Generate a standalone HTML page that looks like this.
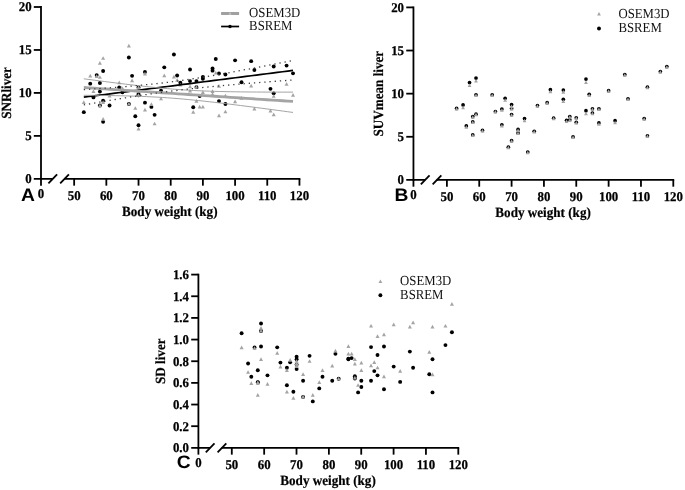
<!DOCTYPE html>
<html lang="en">
<head>
<meta charset="utf-8">
<title>Liver SNR, SUVmean and SD versus body weight</title>
<style>
html,body{margin:0;padding:0;background:#fff;}
body{width:685px;height:490px;overflow:hidden;}
svg{display:block;will-change:transform;}
text{font-family:"Liberation Serif","Times New Roman",serif;fill:#000;text-rendering:geometricPrecision;}
.tk{font-weight:bold;font-size:13.4px;stroke:#000;stroke-width:0.25px;}
.ti{font-weight:bold;font-size:14px;stroke:#000;stroke-width:0.2px;}
.ty{font-size:14px;}
.lg{font-size:13.8px;fill:#111;}
.pl{font-family:"Liberation Sans",Arial,sans-serif;font-weight:bold;font-size:18px;}
</style>
</head>
<body>
<svg width="685" height="490" viewBox="0 0 685 490">
<rect width="685" height="490" fill="#fff"/>
<g id="panelA">
<circle cx="83.81" cy="112.13" r="1.95" fill="#000"/>
<circle cx="90.24" cy="83.63" r="1.95" fill="#000"/>
<circle cx="93.46" cy="97.4" r="1.95" fill="#000"/>
<circle cx="96.68" cy="75.1" r="1.95" fill="#000"/>
<circle cx="99.9" cy="83.05" r="1.95" fill="#000"/>
<circle cx="99.9" cy="91.58" r="1.95" fill="#000"/>
<circle cx="99.9" cy="105.54" r="1.95" fill="#000"/>
<circle cx="103.12" cy="71.03" r="1.95" fill="#000"/>
<circle cx="103.12" cy="100.69" r="1.95" fill="#000"/>
<circle cx="103.12" cy="121.83" r="1.95" fill="#000"/>
<circle cx="109.55" cy="105.54" r="1.95" fill="#000"/>
<circle cx="119.21" cy="87.51" r="1.95" fill="#000"/>
<circle cx="122.43" cy="92.36" r="1.95" fill="#000"/>
<circle cx="128.87" cy="57.45" r="1.95" fill="#000"/>
<circle cx="128.87" cy="103.99" r="1.95" fill="#000"/>
<circle cx="132.08" cy="75.87" r="1.95" fill="#000"/>
<circle cx="135.3" cy="116.21" r="1.95" fill="#000"/>
<circle cx="138.52" cy="125.32" r="1.95" fill="#000"/>
<circle cx="138.52" cy="87.51" r="1.95" fill="#000"/>
<circle cx="138.52" cy="95.26" r="1.95" fill="#000"/>
<circle cx="138.52" cy="93.91" r="1.95" fill="#000"/>
<circle cx="144.96" cy="72" r="1.95" fill="#000"/>
<circle cx="144.96" cy="102.63" r="1.95" fill="#000"/>
<circle cx="151.4" cy="106.9" r="1.95" fill="#000"/>
<circle cx="154.61" cy="114.85" r="1.95" fill="#000"/>
<circle cx="161.05" cy="90.8" r="1.95" fill="#000"/>
<circle cx="164.27" cy="67.34" r="1.95" fill="#000"/>
<circle cx="173.93" cy="54.54" r="1.95" fill="#000"/>
<circle cx="177.14" cy="75.49" r="1.95" fill="#000"/>
<circle cx="180.36" cy="82.66" r="1.95" fill="#000"/>
<circle cx="190.02" cy="69.47" r="1.95" fill="#000"/>
<circle cx="190.02" cy="81.11" r="1.95" fill="#000"/>
<circle cx="193.24" cy="107.29" r="1.95" fill="#000"/>
<circle cx="196.46" cy="81.11" r="1.95" fill="#000"/>
<circle cx="196.46" cy="87.12" r="1.95" fill="#000"/>
<circle cx="199.67" cy="96.04" r="1.95" fill="#000"/>
<circle cx="202.89" cy="76.84" r="1.95" fill="#000"/>
<circle cx="202.89" cy="78.78" r="1.95" fill="#000"/>
<circle cx="212.55" cy="68.5" r="1.95" fill="#000"/>
<circle cx="212.55" cy="70.64" r="1.95" fill="#000"/>
<circle cx="215.77" cy="59" r="1.95" fill="#000"/>
<circle cx="218.99" cy="73.55" r="1.95" fill="#000"/>
<circle cx="218.99" cy="101.08" r="1.95" fill="#000"/>
<circle cx="225.42" cy="74.52" r="1.95" fill="#000"/>
<circle cx="225.42" cy="103.99" r="1.95" fill="#000"/>
<circle cx="235.08" cy="60.36" r="1.95" fill="#000"/>
<circle cx="241.52" cy="82.27" r="1.95" fill="#000"/>
<circle cx="251.17" cy="61.14" r="1.95" fill="#000"/>
<circle cx="254.39" cy="70.06" r="1.95" fill="#000"/>
<circle cx="270.48" cy="88.87" r="1.95" fill="#000"/>
<circle cx="273.7" cy="66.57" r="1.95" fill="#000"/>
<circle cx="273.7" cy="93.33" r="1.95" fill="#000"/>
<circle cx="286.58" cy="65.6" r="1.95" fill="#000"/>
<circle cx="293.01" cy="73.35" r="1.95" fill="#000"/>
<polygon points="83.81,100.34 81.81,104.04 85.81,104.04" fill="#a4a4a4"/>
<polygon points="90.24,73.77 88.24,77.47 92.24,77.47" fill="#a4a4a4"/>
<polygon points="93.46,89.29 91.46,92.99 95.46,92.99" fill="#a4a4a4"/>
<polygon points="96.68,74.36 94.68,78.06 98.68,78.06" fill="#a4a4a4"/>
<polygon points="99.9,60.98 97.9,64.68 101.9,64.68" fill="#a4a4a4"/>
<polygon points="99.9,75.13 97.9,78.83 101.9,78.83" fill="#a4a4a4"/>
<polygon points="99.9,103.44 97.9,107.14 101.9,107.14" fill="#a4a4a4"/>
<polygon points="103.12,56.13 101.12,59.83 105.12,59.83" fill="#a4a4a4"/>
<polygon points="103.12,100.34 101.12,104.04 105.12,104.04" fill="#a4a4a4"/>
<polygon points="103.12,117.02 101.12,120.72 105.12,120.72" fill="#a4a4a4"/>
<polygon points="109.55,93.75 107.55,97.45 111.55,97.45" fill="#a4a4a4"/>
<polygon points="119.21,80.56 117.21,84.26 121.21,84.26" fill="#a4a4a4"/>
<polygon points="122.43,86.38 120.43,90.08 124.43,90.08" fill="#a4a4a4"/>
<polygon points="128.87,43.72 126.87,47.42 130.87,47.42" fill="#a4a4a4"/>
<polygon points="128.87,101.89 126.87,105.59 130.87,105.59" fill="#a4a4a4"/>
<polygon points="132.08,78.62 130.08,82.32 134.08,82.32" fill="#a4a4a4"/>
<polygon points="135.3,106.16 133.3,109.86 137.3,109.86" fill="#a4a4a4"/>
<polygon points="138.52,126.71 136.52,130.41 140.52,130.41" fill="#a4a4a4"/>
<polygon points="138.52,85.41 136.52,89.11 140.52,89.11" fill="#a4a4a4"/>
<polygon points="138.52,93.16 136.52,96.86 140.52,96.86" fill="#a4a4a4"/>
<polygon points="138.52,88.7 136.52,92.4 140.52,92.4" fill="#a4a4a4"/>
<polygon points="144.96,71.83 142.96,75.53 146.96,75.53" fill="#a4a4a4"/>
<polygon points="144.96,107.71 142.96,111.41 146.96,111.41" fill="#a4a4a4"/>
<polygon points="151.4,102.28 149.4,105.98 153.4,105.98" fill="#a4a4a4"/>
<polygon points="154.61,121.67 152.61,125.37 156.61,125.37" fill="#a4a4a4"/>
<polygon points="161.05,96.66 159.05,100.36 163.05,100.36" fill="#a4a4a4"/>
<polygon points="164.27,73.58 162.27,77.28 166.27,77.28" fill="#a4a4a4"/>
<polygon points="173.93,74.74 171.93,78.44 175.93,78.44" fill="#a4a4a4"/>
<polygon points="177.14,78.04 175.14,81.74 179.14,81.74" fill="#a4a4a4"/>
<polygon points="180.36,82.89 178.36,86.59 182.36,86.59" fill="#a4a4a4"/>
<polygon points="190.02,84.44 188.02,88.14 192.02,88.14" fill="#a4a4a4"/>
<polygon points="190.02,88.7 188.02,92.4 192.02,92.4" fill="#a4a4a4"/>
<polygon points="193.24,110.03 191.24,113.73 195.24,113.73" fill="#a4a4a4"/>
<polygon points="196.46,98.98 194.46,102.68 198.46,102.68" fill="#a4a4a4"/>
<polygon points="196.46,85.02 194.46,88.72 198.46,88.72" fill="#a4a4a4"/>
<polygon points="199.67,104.8 197.67,108.5 201.67,108.5" fill="#a4a4a4"/>
<polygon points="202.89,104.8 200.89,108.5 204.89,108.5" fill="#a4a4a4"/>
<polygon points="202.89,90.26 200.89,93.96 204.89,93.96" fill="#a4a4a4"/>
<polygon points="212.55,89.29 210.55,92.99 214.55,92.99" fill="#a4a4a4"/>
<polygon points="212.55,92.2 210.55,95.9 214.55,95.9" fill="#a4a4a4"/>
<polygon points="215.77,70.86 213.77,74.56 217.77,74.56" fill="#a4a4a4"/>
<polygon points="218.99,84.05 216.99,87.75 220.99,87.75" fill="#a4a4a4"/>
<polygon points="218.99,113.53 216.99,117.23 220.99,117.23" fill="#a4a4a4"/>
<polygon points="225.42,93.75 223.42,97.45 227.42,97.45" fill="#a4a4a4"/>
<polygon points="225.42,109.65 223.42,113.35 227.42,113.35" fill="#a4a4a4"/>
<polygon points="235.08,99.56 233.08,103.26 237.08,103.26" fill="#a4a4a4"/>
<polygon points="241.52,96.07 239.52,99.77 243.52,99.77" fill="#a4a4a4"/>
<polygon points="251.17,83.86 249.17,87.56 253.17,87.56" fill="#a4a4a4"/>
<polygon points="254.39,106.74 252.39,110.44 256.39,110.44" fill="#a4a4a4"/>
<polygon points="270.48,108.68 268.48,112.38 272.48,112.38" fill="#a4a4a4"/>
<polygon points="273.7,112.56 271.7,116.26 275.7,116.26" fill="#a4a4a4"/>
<polygon points="273.7,94.13 271.7,97.83 275.7,97.83" fill="#a4a4a4"/>
<polygon points="286.58,82.11 284.58,85.81 288.58,85.81" fill="#a4a4a4"/>
<polygon points="293.01,92.97 291.01,96.67 295.01,96.67" fill="#a4a4a4"/>
<path d="M83.81 97.19 L89.04 96.52 L94.27 95.85 L99.5 95.18 L104.73 94.51 L109.96 93.84 L115.19 93.17 L120.42 92.5 L125.65 91.83 L130.88 91.16 L136.11 90.49 L141.34 89.82 L146.57 89.15 L151.8 88.48 L157.03 87.81 L162.26 87.14 L167.49 86.47 L172.72 85.8 L177.95 85.13 L183.18 84.46 L188.41 83.79 L193.64 83.12 L198.87 82.44 L204.1 81.77 L209.33 81.1 L214.56 80.43 L219.79 79.76 L225.02 79.09 L230.25 78.42 L235.48 77.75 L240.71 77.08 L245.94 76.41 L251.17 75.74 L256.4 75.07 L261.63 74.4 L266.86 73.73 L272.09 73.06 L277.32 72.39 L282.55 71.72 L287.78 71.05 L293.01 70.38" stroke="#000" stroke-width="1.7" fill="none"/>
<path d="M83.81 87.51 L89.04 87.86 L94.27 88.21 L99.5 88.56 L104.73 88.91 L109.96 89.26 L115.19 89.61 L120.42 89.95 L125.65 90.3 L130.88 90.65 L136.11 91 L141.34 91.35 L146.57 91.7 L151.8 92.05 L157.03 92.4 L162.26 92.75 L167.49 93.1 L172.72 93.44 L177.95 93.79 L183.18 94.14 L188.41 94.49 L193.64 94.84 L198.87 95.19 L204.1 95.54 L209.33 95.89 L214.56 96.24 L219.79 96.59 L225.02 96.93 L230.25 97.28 L235.48 97.63 L240.71 97.98 L245.94 98.33 L251.17 98.68 L256.4 99.03 L261.63 99.38 L266.86 99.73 L272.09 100.08 L277.32 100.42 L282.55 100.77 L287.78 101.12 L293.01 101.47" stroke="#a4a4a4" stroke-width="2.8" fill="none"/>
<path d="M83.81 78.8 L89.04 79.49 L94.27 80.18 L99.5 80.86 L104.73 81.54 L109.96 82.21 L115.19 82.87 L120.42 83.52 L125.65 84.16 L130.88 84.79 L136.11 85.4 L141.34 86 L146.57 86.57 L151.8 87.13 L157.03 87.66 L162.26 88.17 L167.49 88.64 L172.72 89.08 L177.95 89.49 L183.18 89.86 L188.41 90.19 L193.64 90.49 L198.87 90.75 L204.1 90.98 L209.33 91.18 L214.56 91.35 L219.79 91.49 L225.02 91.62 L230.25 91.72 L235.48 91.81 L240.71 91.88 L245.94 91.94 L251.17 91.99 L256.4 92.03 L261.63 92.06 L266.86 92.08 L272.09 92.1 L277.32 92.11 L282.55 92.12 L287.78 92.12 L293.01 92.11" stroke="#9a9a9a" stroke-width="0.9" fill="none"/>
<path d="M83.81 95.3 L89.04 95.33 L94.27 95.37 L99.5 95.42 L104.73 95.48 L109.96 95.56 L115.19 95.65 L120.42 95.75 L125.65 95.87 L130.88 96.02 L136.11 96.19 L141.34 96.38 L146.57 96.6 L151.8 96.86 L157.03 97.14 L162.26 97.46 L167.49 97.81 L172.72 98.2 L177.95 98.62 L183.18 99.07 L188.41 99.56 L193.64 100.07 L198.87 100.6 L204.1 101.16 L209.33 101.74 L214.56 102.34 L219.79 102.95 L225.02 103.57 L230.25 104.21 L235.48 104.86 L240.71 105.52 L245.94 106.19 L251.17 106.87 L256.4 107.55 L261.63 108.23 L266.86 108.93 L272.09 109.62 L277.32 110.33 L282.55 111.03 L287.78 111.74 L293.01 112.45" stroke="#9a9a9a" stroke-width="0.9" fill="none"/>
<path d="M83.81 89.63 L89.04 89.28 L94.27 88.92 L99.5 88.55 L104.73 88.18 L109.96 87.79 L115.19 87.4 L120.42 86.99 L125.65 86.56 L130.88 86.12 L136.11 85.66 L141.34 85.18 L146.57 84.67 L151.8 84.14 L157.03 83.58 L162.26 82.98 L167.49 82.35 L172.72 81.68 L177.95 80.98 L183.18 80.24 L188.41 79.48 L193.64 78.68 L198.87 77.85 L204.1 77 L209.33 76.12 L214.56 75.22 L219.79 74.31 L225.02 73.38 L230.25 72.44 L235.48 71.49 L240.71 70.52 L245.94 69.55 L251.17 68.57 L256.4 67.59 L261.63 66.6 L266.86 65.6 L272.09 64.6 L277.32 63.59 L282.55 62.58 L287.78 61.57 L293.01 60.55" stroke="#3c3c3c" stroke-width="1.3" stroke-dasharray="1.3 3.9" fill="none"/>
<path d="M83.81 104.92 L89.04 104 L94.27 103.08 L99.5 102.17 L104.73 101.27 L109.96 100.38 L115.19 99.5 L120.42 98.63 L125.65 97.78 L130.88 96.94 L136.11 96.12 L141.34 95.32 L146.57 94.53 L151.8 93.77 L157.03 93.03 L162.26 92.31 L167.49 91.61 L172.72 90.94 L177.95 90.29 L183.18 89.66 L188.41 89.06 L193.64 88.48 L198.87 87.91 L204.1 87.37 L209.33 86.85 L214.56 86.34 L219.79 85.85 L225.02 85.38 L230.25 84.91 L235.48 84.46 L240.71 84.02 L245.94 83.59 L251.17 83.16 L256.4 82.75 L261.63 82.34 L266.86 81.94 L272.09 81.54 L277.32 81.15 L282.55 80.76 L287.78 80.38 L293.01 80" stroke="#3c3c3c" stroke-width="1.3" stroke-dasharray="1.3 3.9" fill="none"/>
<path d="M41 6.1 V179.75" stroke="#000" stroke-width="1.8" fill="none"/>
<path d="M33.8 178.85 H52.6 M64 178.85 H300.35" stroke="#000" stroke-width="1.8" fill="none"/>
<path d="M48.4 183.35 L57.1 174.35" stroke="#000" stroke-width="1.8" fill="none"/>
<path d="M60.2 183.35 L68.9 174.35" stroke="#000" stroke-width="1.8" fill="none"/>
<text transform="translate(31.6 183.25) scale(0.96 1)" text-anchor="end" class="tk">0</text>
<path d="M33.8 135.89 H41" stroke="#000" stroke-width="1.8"/>
<text transform="translate(31.6 140.29) scale(0.96 1)" text-anchor="end" class="tk">5</text>
<path d="M33.8 92.92 H41" stroke="#000" stroke-width="1.8"/>
<text transform="translate(31.6 97.33) scale(0.96 1)" text-anchor="end" class="tk">10</text>
<path d="M33.8 49.96 H41" stroke="#000" stroke-width="1.8"/>
<text transform="translate(31.6 54.36) scale(0.96 1)" text-anchor="end" class="tk">15</text>
<path d="M33.8 7 H41" stroke="#000" stroke-width="1.8"/>
<text transform="translate(31.6 11.4) scale(0.96 1)" text-anchor="end" class="tk">20</text>
<path d="M41 178.85 V185.65" stroke="#000" stroke-width="1.8"/>
<text transform="translate(41 197.85) scale(0.96 1)" text-anchor="middle" class="tk">0</text>
<path d="M74.15 178.85 V185.65" stroke="#000" stroke-width="1.8"/>
<text transform="translate(74.15 199.95) scale(0.96 1)" text-anchor="middle" class="tk">50</text>
<path d="M106.34 178.85 V185.65" stroke="#000" stroke-width="1.8"/>
<text transform="translate(106.34 199.95) scale(0.96 1)" text-anchor="middle" class="tk">60</text>
<path d="M138.52 178.85 V185.65" stroke="#000" stroke-width="1.8"/>
<text transform="translate(138.52 199.95) scale(0.96 1)" text-anchor="middle" class="tk">70</text>
<path d="M170.71 178.85 V185.65" stroke="#000" stroke-width="1.8"/>
<text transform="translate(170.71 199.95) scale(0.96 1)" text-anchor="middle" class="tk">80</text>
<path d="M202.89 178.85 V185.65" stroke="#000" stroke-width="1.8"/>
<text transform="translate(202.89 199.95) scale(0.96 1)" text-anchor="middle" class="tk">90</text>
<path d="M235.08 178.85 V185.65" stroke="#000" stroke-width="1.8"/>
<text transform="translate(235.08 199.95) scale(0.96 1)" text-anchor="middle" class="tk">100</text>
<path d="M267.26 178.85 V185.65" stroke="#000" stroke-width="1.8"/>
<text transform="translate(267.26 199.95) scale(0.96 1)" text-anchor="middle" class="tk">110</text>
<path d="M299.45 178.85 V185.65" stroke="#000" stroke-width="1.8"/>
<text transform="translate(299.45 199.95) scale(0.96 1)" text-anchor="middle" class="tk">120</text>
<text transform="translate(169.8 215.75) scale(0.937 1)" text-anchor="middle" class="ti">Body weight (kg)</text>
<text transform="translate(11.4 92.92) rotate(-90) scale(0.937 1)" text-anchor="middle" class="ti ty">SNRliver</text>
<text transform="translate(27.9 200.9) scale(1.07 1)" text-anchor="middle" class="pl">A</text>
<path d="M221.1 13.5 H239.1" stroke="#a0a0a0" stroke-width="3"/>
<path d="M221.1 26.5 H239.1" stroke="#000" stroke-width="1.7"/>
<polygon points="230,11.93 228.5,14.7 231.5,14.7" fill="#c4c4c4"/>
<circle cx="230" cy="26.5" r="1.75" fill="#000"/>
<text transform="translate(249.1 17.4) scale(0.927 1)" class="lg">OSEM3D</text>
<text transform="translate(249.1 30.4) scale(0.927 1)" class="lg">BSREM</text>
</g>
<g id="panelB">
<circle cx="456.6" cy="108.43" r="1.85" fill="#000"/>
<circle cx="463.07" cy="104.96" r="1.85" fill="#000"/>
<circle cx="466.31" cy="125.96" r="1.85" fill="#000"/>
<circle cx="469.54" cy="82.53" r="1.85" fill="#000"/>
<circle cx="472.77" cy="116.58" r="1.85" fill="#000"/>
<circle cx="472.77" cy="121.88" r="1.85" fill="#000"/>
<circle cx="472.77" cy="134.93" r="1.85" fill="#000"/>
<circle cx="476.01" cy="78.04" r="1.85" fill="#000"/>
<circle cx="476.01" cy="94.76" r="1.85" fill="#000"/>
<circle cx="476.01" cy="114.14" r="1.85" fill="#000"/>
<circle cx="482.48" cy="130.45" r="1.85" fill="#000"/>
<circle cx="492.18" cy="94.76" r="1.85" fill="#000"/>
<circle cx="495.41" cy="111.48" r="1.85" fill="#000"/>
<circle cx="501.88" cy="109.04" r="1.85" fill="#000"/>
<circle cx="501.88" cy="124.74" r="1.85" fill="#000"/>
<circle cx="505.12" cy="98.23" r="1.85" fill="#000"/>
<circle cx="508.35" cy="147.17" r="1.85" fill="#000"/>
<circle cx="511.59" cy="104.55" r="1.85" fill="#000"/>
<circle cx="511.59" cy="108.43" r="1.85" fill="#000"/>
<circle cx="511.59" cy="114.54" r="1.85" fill="#000"/>
<circle cx="511.59" cy="140.64" r="1.85" fill="#000"/>
<circle cx="518.05" cy="129.43" r="1.85" fill="#000"/>
<circle cx="518.05" cy="132.9" r="1.85" fill="#000"/>
<circle cx="524.52" cy="118.62" r="1.85" fill="#000"/>
<circle cx="527.76" cy="152.06" r="1.85" fill="#000"/>
<circle cx="534.23" cy="131.26" r="1.85" fill="#000"/>
<circle cx="537.46" cy="105.57" r="1.85" fill="#000"/>
<circle cx="547.16" cy="102.72" r="1.85" fill="#000"/>
<circle cx="550.4" cy="89.67" r="1.85" fill="#000"/>
<circle cx="553.63" cy="118.21" r="1.85" fill="#000"/>
<circle cx="563.33" cy="90.07" r="1.85" fill="#000"/>
<circle cx="563.33" cy="99.25" r="1.85" fill="#000"/>
<circle cx="566.57" cy="120.25" r="1.85" fill="#000"/>
<circle cx="569.8" cy="116.58" r="1.85" fill="#000"/>
<circle cx="569.8" cy="119.85" r="1.85" fill="#000"/>
<circle cx="573.04" cy="136.97" r="1.85" fill="#000"/>
<circle cx="576.27" cy="117.81" r="1.85" fill="#000"/>
<circle cx="576.27" cy="122.29" r="1.85" fill="#000"/>
<circle cx="585.97" cy="79.06" r="1.85" fill="#000"/>
<circle cx="585.97" cy="110.67" r="1.85" fill="#000"/>
<circle cx="589.21" cy="94.36" r="1.85" fill="#000"/>
<circle cx="592.44" cy="108.83" r="1.85" fill="#000"/>
<circle cx="592.44" cy="113.12" r="1.85" fill="#000"/>
<circle cx="598.91" cy="108.83" r="1.85" fill="#000"/>
<circle cx="598.91" cy="122.9" r="1.85" fill="#000"/>
<circle cx="608.61" cy="90.69" r="1.85" fill="#000"/>
<circle cx="615.08" cy="120.66" r="1.85" fill="#000"/>
<circle cx="624.79" cy="74.58" r="1.85" fill="#000"/>
<circle cx="628.02" cy="98.84" r="1.85" fill="#000"/>
<circle cx="644.19" cy="118.62" r="1.85" fill="#000"/>
<circle cx="647.43" cy="87.22" r="1.85" fill="#000"/>
<circle cx="647.43" cy="135.75" r="1.85" fill="#000"/>
<circle cx="660.36" cy="71.52" r="1.85" fill="#000"/>
<circle cx="666.83" cy="66.62" r="1.85" fill="#000"/>
<polygon points="456.6,107.04 454.7,110.56 458.5,110.56" fill="#a4a4a4"/>
<polygon points="463.07,105.62 461.17,109.13 464.97,109.13" fill="#a4a4a4"/>
<polygon points="466.31,125.19 464.41,128.71 468.21,128.71" fill="#a4a4a4"/>
<polygon points="469.54,83.59 467.64,87.11 471.44,87.11" fill="#a4a4a4"/>
<polygon points="472.77,115.2 470.87,118.71 474.67,118.71" fill="#a4a4a4"/>
<polygon points="472.77,120.5 470.87,124.02 474.67,124.02" fill="#a4a4a4"/>
<polygon points="472.77,133.55 470.87,137.07 474.67,137.07" fill="#a4a4a4"/>
<polygon points="476.01,79.11 474.11,82.62 477.91,82.62" fill="#a4a4a4"/>
<polygon points="476.01,93.38 474.11,96.9 477.91,96.9" fill="#a4a4a4"/>
<polygon points="476.01,112.75 474.11,116.27 477.91,116.27" fill="#a4a4a4"/>
<polygon points="482.48,129.07 480.58,132.58 484.38,132.58" fill="#a4a4a4"/>
<polygon points="492.18,93.38 490.28,96.9 494.08,96.9" fill="#a4a4a4"/>
<polygon points="495.41,110.1 493.51,113.62 497.31,113.62" fill="#a4a4a4"/>
<polygon points="501.88,108.27 499.98,111.78 503.78,111.78" fill="#a4a4a4"/>
<polygon points="501.88,123.97 499.98,127.48 503.78,127.48" fill="#a4a4a4"/>
<polygon points="505.12,98.27 503.22,101.79 507.02,101.79" fill="#a4a4a4"/>
<polygon points="508.35,145.79 506.45,149.3 510.25,149.3" fill="#a4a4a4"/>
<polygon points="511.59,104.6 509.69,108.11 513.49,108.11" fill="#a4a4a4"/>
<polygon points="511.59,107.04 509.69,110.56 513.49,110.56" fill="#a4a4a4"/>
<polygon points="511.59,113.16 509.69,116.67 513.49,116.67" fill="#a4a4a4"/>
<polygon points="511.59,139.26 509.69,142.78 513.49,142.78" fill="#a4a4a4"/>
<polygon points="518.05,128.45 516.15,131.97 519.95,131.97" fill="#a4a4a4"/>
<polygon points="518.05,131.51 516.15,135.03 519.95,135.03" fill="#a4a4a4"/>
<polygon points="524.52,118.67 522.62,122.18 526.42,122.18" fill="#a4a4a4"/>
<polygon points="527.76,150.68 525.86,154.2 529.66,154.2" fill="#a4a4a4"/>
<polygon points="534.23,129.88 532.33,133.4 536.13,133.4" fill="#a4a4a4"/>
<polygon points="537.46,104.19 535.56,107.7 539.36,107.7" fill="#a4a4a4"/>
<polygon points="547.16,101.33 545.26,104.85 549.06,104.85" fill="#a4a4a4"/>
<polygon points="550.4,89.71 548.5,93.22 552.3,93.22" fill="#a4a4a4"/>
<polygon points="553.63,116.83 551.73,120.35 555.53,120.35" fill="#a4a4a4"/>
<polygon points="563.33,90.12 561.43,93.63 565.23,93.63" fill="#a4a4a4"/>
<polygon points="563.33,99.5 561.43,103.01 565.23,103.01" fill="#a4a4a4"/>
<polygon points="566.57,119.48 564.67,123 568.47,123" fill="#a4a4a4"/>
<polygon points="569.8,115.2 567.9,118.71 571.7,118.71" fill="#a4a4a4"/>
<polygon points="569.8,118.46 567.9,121.98 571.7,121.98" fill="#a4a4a4"/>
<polygon points="573.04,135.59 571.14,139.11 574.94,139.11" fill="#a4a4a4"/>
<polygon points="576.27,116.42 574.37,119.94 578.17,119.94" fill="#a4a4a4"/>
<polygon points="576.27,120.91 574.37,124.42 578.17,124.42" fill="#a4a4a4"/>
<polygon points="585.97,80.53 584.07,84.05 587.87,84.05" fill="#a4a4a4"/>
<polygon points="585.97,111.73 584.07,115.25 587.87,115.25" fill="#a4a4a4"/>
<polygon points="589.21,93.58 587.31,97.1 591.11,97.1" fill="#a4a4a4"/>
<polygon points="592.44,107.45 590.54,110.97 594.34,110.97" fill="#a4a4a4"/>
<polygon points="592.44,111.73 590.54,115.25 594.34,115.25" fill="#a4a4a4"/>
<polygon points="598.91,107.45 597.01,110.97 600.81,110.97" fill="#a4a4a4"/>
<polygon points="598.91,122.34 597.01,125.85 600.81,125.85" fill="#a4a4a4"/>
<polygon points="608.61,89.3 606.71,92.82 610.51,92.82" fill="#a4a4a4"/>
<polygon points="615.08,120.7 613.18,124.22 616.98,124.22" fill="#a4a4a4"/>
<polygon points="624.79,73.19 622.89,76.71 626.69,76.71" fill="#a4a4a4"/>
<polygon points="628.02,97.46 626.12,100.97 629.92,100.97" fill="#a4a4a4"/>
<polygon points="644.19,117.24 642.29,120.75 646.09,120.75" fill="#a4a4a4"/>
<polygon points="647.43,85.84 645.53,89.35 649.33,89.35" fill="#a4a4a4"/>
<polygon points="647.43,134.37 645.53,137.88 649.33,137.88" fill="#a4a4a4"/>
<polygon points="660.36,70.13 658.46,73.65 662.26,73.65" fill="#a4a4a4"/>
<polygon points="666.83,65.24 664.93,68.75 668.73,68.75" fill="#a4a4a4"/>
<path d="M413.45 6.5 V180.8" stroke="#000" stroke-width="1.8" fill="none"/>
<path d="M406.25 179.9 H425.05 M436.45 179.9 H674.2" stroke="#000" stroke-width="1.8" fill="none"/>
<path d="M420.85 184.4 L429.55 175.4" stroke="#000" stroke-width="1.8" fill="none"/>
<path d="M432.65 184.4 L441.35 175.4" stroke="#000" stroke-width="1.8" fill="none"/>
<text transform="translate(404.05 184.3) scale(0.96 1)" text-anchor="end" class="tk">0</text>
<path d="M406.25 136.78 H413.45" stroke="#000" stroke-width="1.8"/>
<text transform="translate(404.05 141.18) scale(0.96 1)" text-anchor="end" class="tk">5</text>
<path d="M406.25 93.65 H413.45" stroke="#000" stroke-width="1.8"/>
<text transform="translate(404.05 98.05) scale(0.96 1)" text-anchor="end" class="tk">10</text>
<path d="M406.25 50.53 H413.45" stroke="#000" stroke-width="1.8"/>
<text transform="translate(404.05 54.93) scale(0.96 1)" text-anchor="end" class="tk">15</text>
<path d="M406.25 7.4 H413.45" stroke="#000" stroke-width="1.8"/>
<text transform="translate(404.05 11.8) scale(0.96 1)" text-anchor="end" class="tk">20</text>
<path d="M413.45 179.9 V186.7" stroke="#000" stroke-width="1.8"/>
<text transform="translate(413.45 198.9) scale(0.96 1)" text-anchor="middle" class="tk">0</text>
<path d="M446.9 179.9 V186.7" stroke="#000" stroke-width="1.8"/>
<text transform="translate(446.9 201) scale(0.96 1)" text-anchor="middle" class="tk">50</text>
<path d="M479.24 179.9 V186.7" stroke="#000" stroke-width="1.8"/>
<text transform="translate(479.24 201) scale(0.96 1)" text-anchor="middle" class="tk">60</text>
<path d="M511.59 179.9 V186.7" stroke="#000" stroke-width="1.8"/>
<text transform="translate(511.59 201) scale(0.96 1)" text-anchor="middle" class="tk">70</text>
<path d="M543.93 179.9 V186.7" stroke="#000" stroke-width="1.8"/>
<text transform="translate(543.93 201) scale(0.96 1)" text-anchor="middle" class="tk">80</text>
<path d="M576.27 179.9 V186.7" stroke="#000" stroke-width="1.8"/>
<text transform="translate(576.27 201) scale(0.96 1)" text-anchor="middle" class="tk">90</text>
<path d="M608.61 179.9 V186.7" stroke="#000" stroke-width="1.8"/>
<text transform="translate(608.61 201) scale(0.96 1)" text-anchor="middle" class="tk">100</text>
<path d="M640.96 179.9 V186.7" stroke="#000" stroke-width="1.8"/>
<text transform="translate(640.96 201) scale(0.96 1)" text-anchor="middle" class="tk">110</text>
<path d="M673.3 179.9 V186.7" stroke="#000" stroke-width="1.8"/>
<text transform="translate(673.3 201) scale(0.96 1)" text-anchor="middle" class="tk">120</text>
<text transform="translate(543.1 216.8) scale(0.937 1)" text-anchor="middle" class="ti">Body weight (kg)</text>
<text transform="translate(382.7 93.65) rotate(-90) scale(0.937 1)" text-anchor="middle" class="ti ty">SUVmean liver</text>
<text transform="translate(401.4 200.6) scale(1.07 1)" text-anchor="middle" class="pl">B</text>
<polygon points="599,11.91 597.1,15.42 600.9,15.42" fill="#a4a4a4"/>
<circle cx="599" cy="28.5" r="1.95" fill="#000"/>
<text transform="translate(618.4 17.9) scale(0.927 1)" class="lg">OSEM3D</text>
<text transform="translate(618.4 32.3) scale(0.927 1)" class="lg">BSREM</text>
</g>
<g id="panelC">
<circle cx="241.61" cy="333.2" r="1.95" fill="#000"/>
<circle cx="248.08" cy="363.48" r="1.95" fill="#000"/>
<circle cx="251.31" cy="376.72" r="1.95" fill="#000"/>
<circle cx="254.55" cy="347.55" r="1.95" fill="#000"/>
<circle cx="257.79" cy="370.21" r="1.95" fill="#000"/>
<circle cx="257.79" cy="382.55" r="1.95" fill="#000"/>
<circle cx="257.79" cy="382.1" r="1.95" fill="#000"/>
<circle cx="261.02" cy="323.55" r="1.95" fill="#000"/>
<circle cx="261.02" cy="330.96" r="1.95" fill="#000"/>
<circle cx="261.02" cy="346.43" r="1.95" fill="#000"/>
<circle cx="267.49" cy="375.37" r="1.95" fill="#000"/>
<circle cx="277.2" cy="347.33" r="1.95" fill="#000"/>
<circle cx="280.44" cy="362.58" r="1.95" fill="#000"/>
<circle cx="286.91" cy="367.74" r="1.95" fill="#000"/>
<circle cx="286.91" cy="385.24" r="1.95" fill="#000"/>
<circle cx="290.14" cy="362.36" r="1.95" fill="#000"/>
<circle cx="293.38" cy="391.75" r="1.95" fill="#000"/>
<circle cx="296.61" cy="356.75" r="1.95" fill="#000"/>
<circle cx="296.61" cy="359.22" r="1.95" fill="#000"/>
<circle cx="296.61" cy="364.6" r="1.95" fill="#000"/>
<circle cx="296.61" cy="369.09" r="1.95" fill="#000"/>
<circle cx="303.09" cy="380.75" r="1.95" fill="#000"/>
<circle cx="303.09" cy="396.9" r="1.95" fill="#000"/>
<circle cx="309.56" cy="355.85" r="1.95" fill="#000"/>
<circle cx="312.79" cy="401.39" r="1.95" fill="#000"/>
<circle cx="319.26" cy="388.38" r="1.95" fill="#000"/>
<circle cx="322.5" cy="376.72" r="1.95" fill="#000"/>
<circle cx="332.21" cy="380.75" r="1.95" fill="#000"/>
<circle cx="335.44" cy="353.84" r="1.95" fill="#000"/>
<circle cx="338.68" cy="378.73" r="1.95" fill="#000"/>
<circle cx="348.39" cy="359.22" r="1.95" fill="#000"/>
<circle cx="348.39" cy="358.77" r="1.95" fill="#000"/>
<circle cx="351.62" cy="358.1" r="1.95" fill="#000"/>
<circle cx="354.86" cy="376.27" r="1.95" fill="#000"/>
<circle cx="354.86" cy="378.51" r="1.95" fill="#000"/>
<circle cx="358.09" cy="392.42" r="1.95" fill="#000"/>
<circle cx="361.33" cy="380.75" r="1.95" fill="#000"/>
<circle cx="361.33" cy="387.03" r="1.95" fill="#000"/>
<circle cx="371.04" cy="347.11" r="1.95" fill="#000"/>
<circle cx="371.04" cy="380.75" r="1.95" fill="#000"/>
<circle cx="374.27" cy="371.11" r="1.95" fill="#000"/>
<circle cx="377.51" cy="354.96" r="1.95" fill="#000"/>
<circle cx="377.51" cy="375.37" r="1.95" fill="#000"/>
<circle cx="383.98" cy="346.43" r="1.95" fill="#000"/>
<circle cx="383.98" cy="389.28" r="1.95" fill="#000"/>
<circle cx="393.69" cy="366.62" r="1.95" fill="#000"/>
<circle cx="400.16" cy="381.88" r="1.95" fill="#000"/>
<circle cx="409.86" cy="351.59" r="1.95" fill="#000"/>
<circle cx="413.1" cy="367.74" r="1.95" fill="#000"/>
<circle cx="429.28" cy="374.25" r="1.95" fill="#000"/>
<circle cx="432.51" cy="359.22" r="1.95" fill="#000"/>
<circle cx="432.51" cy="392.42" r="1.95" fill="#000"/>
<circle cx="445.46" cy="345.09" r="1.95" fill="#000"/>
<circle cx="451.93" cy="332.3" r="1.95" fill="#000"/>
<polygon points="241.61,345.45 239.61,349.15 243.61,349.15" fill="#a4a4a4"/>
<polygon points="248.08,370.13 246.08,373.83 250.08,373.83" fill="#a4a4a4"/>
<polygon points="251.31,381.35 249.31,385.05 253.31,385.05" fill="#a4a4a4"/>
<polygon points="254.55,346.13 252.55,349.83 256.55,349.83" fill="#a4a4a4"/>
<polygon points="257.79,380.45 255.79,384.15 259.79,384.15" fill="#a4a4a4"/>
<polygon points="257.79,380.9 255.79,384.6 259.79,384.6" fill="#a4a4a4"/>
<polygon points="257.79,393.01 255.79,396.71 259.79,396.71" fill="#a4a4a4"/>
<polygon points="261.02,325.94 259.02,329.64 263.02,329.64" fill="#a4a4a4"/>
<polygon points="261.02,328.86 259.02,332.56 263.02,332.56" fill="#a4a4a4"/>
<polygon points="261.02,357.34 259.02,361.04 263.02,361.04" fill="#a4a4a4"/>
<polygon points="267.49,382.02 265.49,385.72 269.49,385.72" fill="#a4a4a4"/>
<polygon points="277.2,351.06 275.2,354.76 279.2,354.76" fill="#a4a4a4"/>
<polygon points="280.44,364.75 278.44,368.45 282.44,368.45" fill="#a4a4a4"/>
<polygon points="286.91,368.34 284.91,372.04 288.91,372.04" fill="#a4a4a4"/>
<polygon points="286.91,389.87 284.91,393.57 288.91,393.57" fill="#a4a4a4"/>
<polygon points="290.14,358.02 288.14,361.72 292.14,361.72" fill="#a4a4a4"/>
<polygon points="293.38,395.93 291.38,399.63 295.38,399.63" fill="#a4a4a4"/>
<polygon points="296.61,359.14 294.61,362.84 298.61,362.84" fill="#a4a4a4"/>
<polygon points="296.61,361.38 294.61,365.08 298.61,365.08" fill="#a4a4a4"/>
<polygon points="296.61,362.95 294.61,366.65 298.61,366.65" fill="#a4a4a4"/>
<polygon points="296.61,364.3 294.61,368 298.61,368" fill="#a4a4a4"/>
<polygon points="303.09,372.37 301.09,376.07 305.09,376.07" fill="#a4a4a4"/>
<polygon points="303.09,394.8 301.09,398.5 305.09,398.5" fill="#a4a4a4"/>
<polygon points="309.56,359.14 307.56,362.84 311.56,362.84" fill="#a4a4a4"/>
<polygon points="312.79,393.01 310.79,396.71 314.79,396.71" fill="#a4a4a4"/>
<polygon points="319.26,380.22 317.26,383.92 321.26,383.92" fill="#a4a4a4"/>
<polygon points="322.5,368.34 320.5,372.04 324.5,372.04" fill="#a4a4a4"/>
<polygon points="332.21,363.85 330.21,367.55 334.21,367.55" fill="#a4a4a4"/>
<polygon points="335.44,348.82 333.44,352.52 337.44,352.52" fill="#a4a4a4"/>
<polygon points="338.68,376.63 336.68,380.33 340.68,380.33" fill="#a4a4a4"/>
<polygon points="348.39,344.33 346.39,348.03 350.39,348.03" fill="#a4a4a4"/>
<polygon points="348.39,351.74 346.39,355.44 350.39,355.44" fill="#a4a4a4"/>
<polygon points="351.62,351.74 349.62,355.44 353.62,355.44" fill="#a4a4a4"/>
<polygon points="354.86,357.34 352.86,361.04 356.86,361.04" fill="#a4a4a4"/>
<polygon points="354.86,361.83 352.86,365.53 356.86,365.53" fill="#a4a4a4"/>
<polygon points="354.86,375.74 352.86,379.44 356.86,379.44" fill="#a4a4a4"/>
<polygon points="358.09,383.14 356.09,386.84 360.09,386.84" fill="#a4a4a4"/>
<polygon points="361.33,360.71 359.33,364.41 363.33,364.41" fill="#a4a4a4"/>
<polygon points="361.33,368.34 359.33,372.04 363.33,372.04" fill="#a4a4a4"/>
<polygon points="371.04,323.92 369.04,327.62 373.04,327.62" fill="#a4a4a4"/>
<polygon points="371.04,363.62 369.04,367.32 373.04,367.32" fill="#a4a4a4"/>
<polygon points="374.27,360.26 372.27,363.96 376.27,363.96" fill="#a4a4a4"/>
<polygon points="377.51,334.24 375.51,337.94 379.51,337.94" fill="#a4a4a4"/>
<polygon points="377.51,365.64 375.51,369.34 379.51,369.34" fill="#a4a4a4"/>
<polygon points="383.98,332.44 381.98,336.14 385.98,336.14" fill="#a4a4a4"/>
<polygon points="383.98,374.62 381.98,378.32 385.98,378.32" fill="#a4a4a4"/>
<polygon points="393.69,322.57 391.69,326.27 395.69,326.27" fill="#a4a4a4"/>
<polygon points="400.16,369.01 398.16,372.71 402.16,372.71" fill="#a4a4a4"/>
<polygon points="409.86,324.82 407.86,328.52 411.86,328.52" fill="#a4a4a4"/>
<polygon points="413.1,320.56 411.1,324.26 415.1,324.26" fill="#a4a4a4"/>
<polygon points="429.28,349.94 427.28,353.64 431.28,353.64" fill="#a4a4a4"/>
<polygon points="432.51,324.82 430.51,328.52 434.51,328.52" fill="#a4a4a4"/>
<polygon points="432.51,372.6 430.51,376.3 434.51,376.3" fill="#a4a4a4"/>
<polygon points="445.46,323.92 443.46,327.62 447.46,327.62" fill="#a4a4a4"/>
<polygon points="451.93,301.94 449.93,305.64 453.93,305.64" fill="#a4a4a4"/>
<path d="M198.4 273.7 V448.75" stroke="#000" stroke-width="1.8" fill="none"/>
<path d="M191.2 447.85 H210 M221.4 447.85 H459.2" stroke="#000" stroke-width="1.8" fill="none"/>
<path d="M205.8 452.35 L214.5 443.35" stroke="#000" stroke-width="1.8" fill="none"/>
<path d="M217.6 452.35 L226.3 443.35" stroke="#000" stroke-width="1.8" fill="none"/>
<text transform="translate(189 452.25) scale(0.96 1)" text-anchor="end" class="tk">0.0</text>
<path d="M191.2 426.19 H198.4" stroke="#000" stroke-width="1.8"/>
<text transform="translate(189 430.59) scale(0.96 1)" text-anchor="end" class="tk">0.2</text>
<path d="M191.2 404.54 H198.4" stroke="#000" stroke-width="1.8"/>
<text transform="translate(189 408.94) scale(0.96 1)" text-anchor="end" class="tk">0.4</text>
<path d="M191.2 382.88 H198.4" stroke="#000" stroke-width="1.8"/>
<text transform="translate(189 387.28) scale(0.96 1)" text-anchor="end" class="tk">0.6</text>
<path d="M191.2 361.23 H198.4" stroke="#000" stroke-width="1.8"/>
<text transform="translate(189 365.62) scale(0.96 1)" text-anchor="end" class="tk">0.8</text>
<path d="M191.2 339.57 H198.4" stroke="#000" stroke-width="1.8"/>
<text transform="translate(189 343.97) scale(0.96 1)" text-anchor="end" class="tk">1.0</text>
<path d="M191.2 317.91 H198.4" stroke="#000" stroke-width="1.8"/>
<text transform="translate(189 322.31) scale(0.96 1)" text-anchor="end" class="tk">1.2</text>
<path d="M191.2 296.26 H198.4" stroke="#000" stroke-width="1.8"/>
<text transform="translate(189 300.66) scale(0.96 1)" text-anchor="end" class="tk">1.4</text>
<path d="M191.2 274.6 H198.4" stroke="#000" stroke-width="1.8"/>
<text transform="translate(189 279) scale(0.96 1)" text-anchor="end" class="tk">1.6</text>
<path d="M198.4 447.85 V454.65" stroke="#000" stroke-width="1.8"/>
<text transform="translate(198.4 466.85) scale(0.96 1)" text-anchor="middle" class="tk">0</text>
<path d="M231.8 447.85 V454.65" stroke="#000" stroke-width="1.8"/>
<text transform="translate(231.8 468.95) scale(0.96 1)" text-anchor="middle" class="tk">50</text>
<path d="M264.16 447.85 V454.65" stroke="#000" stroke-width="1.8"/>
<text transform="translate(264.16 468.95) scale(0.96 1)" text-anchor="middle" class="tk">60</text>
<path d="M296.51 447.85 V454.65" stroke="#000" stroke-width="1.8"/>
<text transform="translate(296.51 468.95) scale(0.96 1)" text-anchor="middle" class="tk">70</text>
<path d="M328.87 447.85 V454.65" stroke="#000" stroke-width="1.8"/>
<text transform="translate(328.87 468.95) scale(0.96 1)" text-anchor="middle" class="tk">80</text>
<path d="M361.23 447.85 V454.65" stroke="#000" stroke-width="1.8"/>
<text transform="translate(361.23 468.95) scale(0.96 1)" text-anchor="middle" class="tk">90</text>
<path d="M393.59 447.85 V454.65" stroke="#000" stroke-width="1.8"/>
<text transform="translate(393.59 468.95) scale(0.96 1)" text-anchor="middle" class="tk">100</text>
<path d="M425.94 447.85 V454.65" stroke="#000" stroke-width="1.8"/>
<text transform="translate(425.94 468.95) scale(0.96 1)" text-anchor="middle" class="tk">110</text>
<path d="M458.3 447.85 V454.65" stroke="#000" stroke-width="1.8"/>
<text transform="translate(458.3 468.95) scale(0.96 1)" text-anchor="middle" class="tk">120</text>
<text transform="translate(328.05 484.75) scale(0.937 1)" text-anchor="middle" class="ti">Body weight (kg)</text>
<text transform="translate(165.2 361.23) rotate(-90) scale(0.937 1)" text-anchor="middle" class="ti ty">SD liver</text>
<text transform="translate(183.6 468.4) scale(1.07 1)" text-anchor="middle" class="pl">C</text>
<polygon points="380.4,279.5 378.5,283.02 382.3,283.02" fill="#a4a4a4"/>
<circle cx="380.4" cy="295.3" r="1.95" fill="#000"/>
<text transform="translate(400.1 285.1) scale(0.927 1)" class="lg">OSEM3D</text>
<text transform="translate(400.1 299.1) scale(0.927 1)" class="lg">BSREM</text>
</g>
</svg>
</body>
</html>
